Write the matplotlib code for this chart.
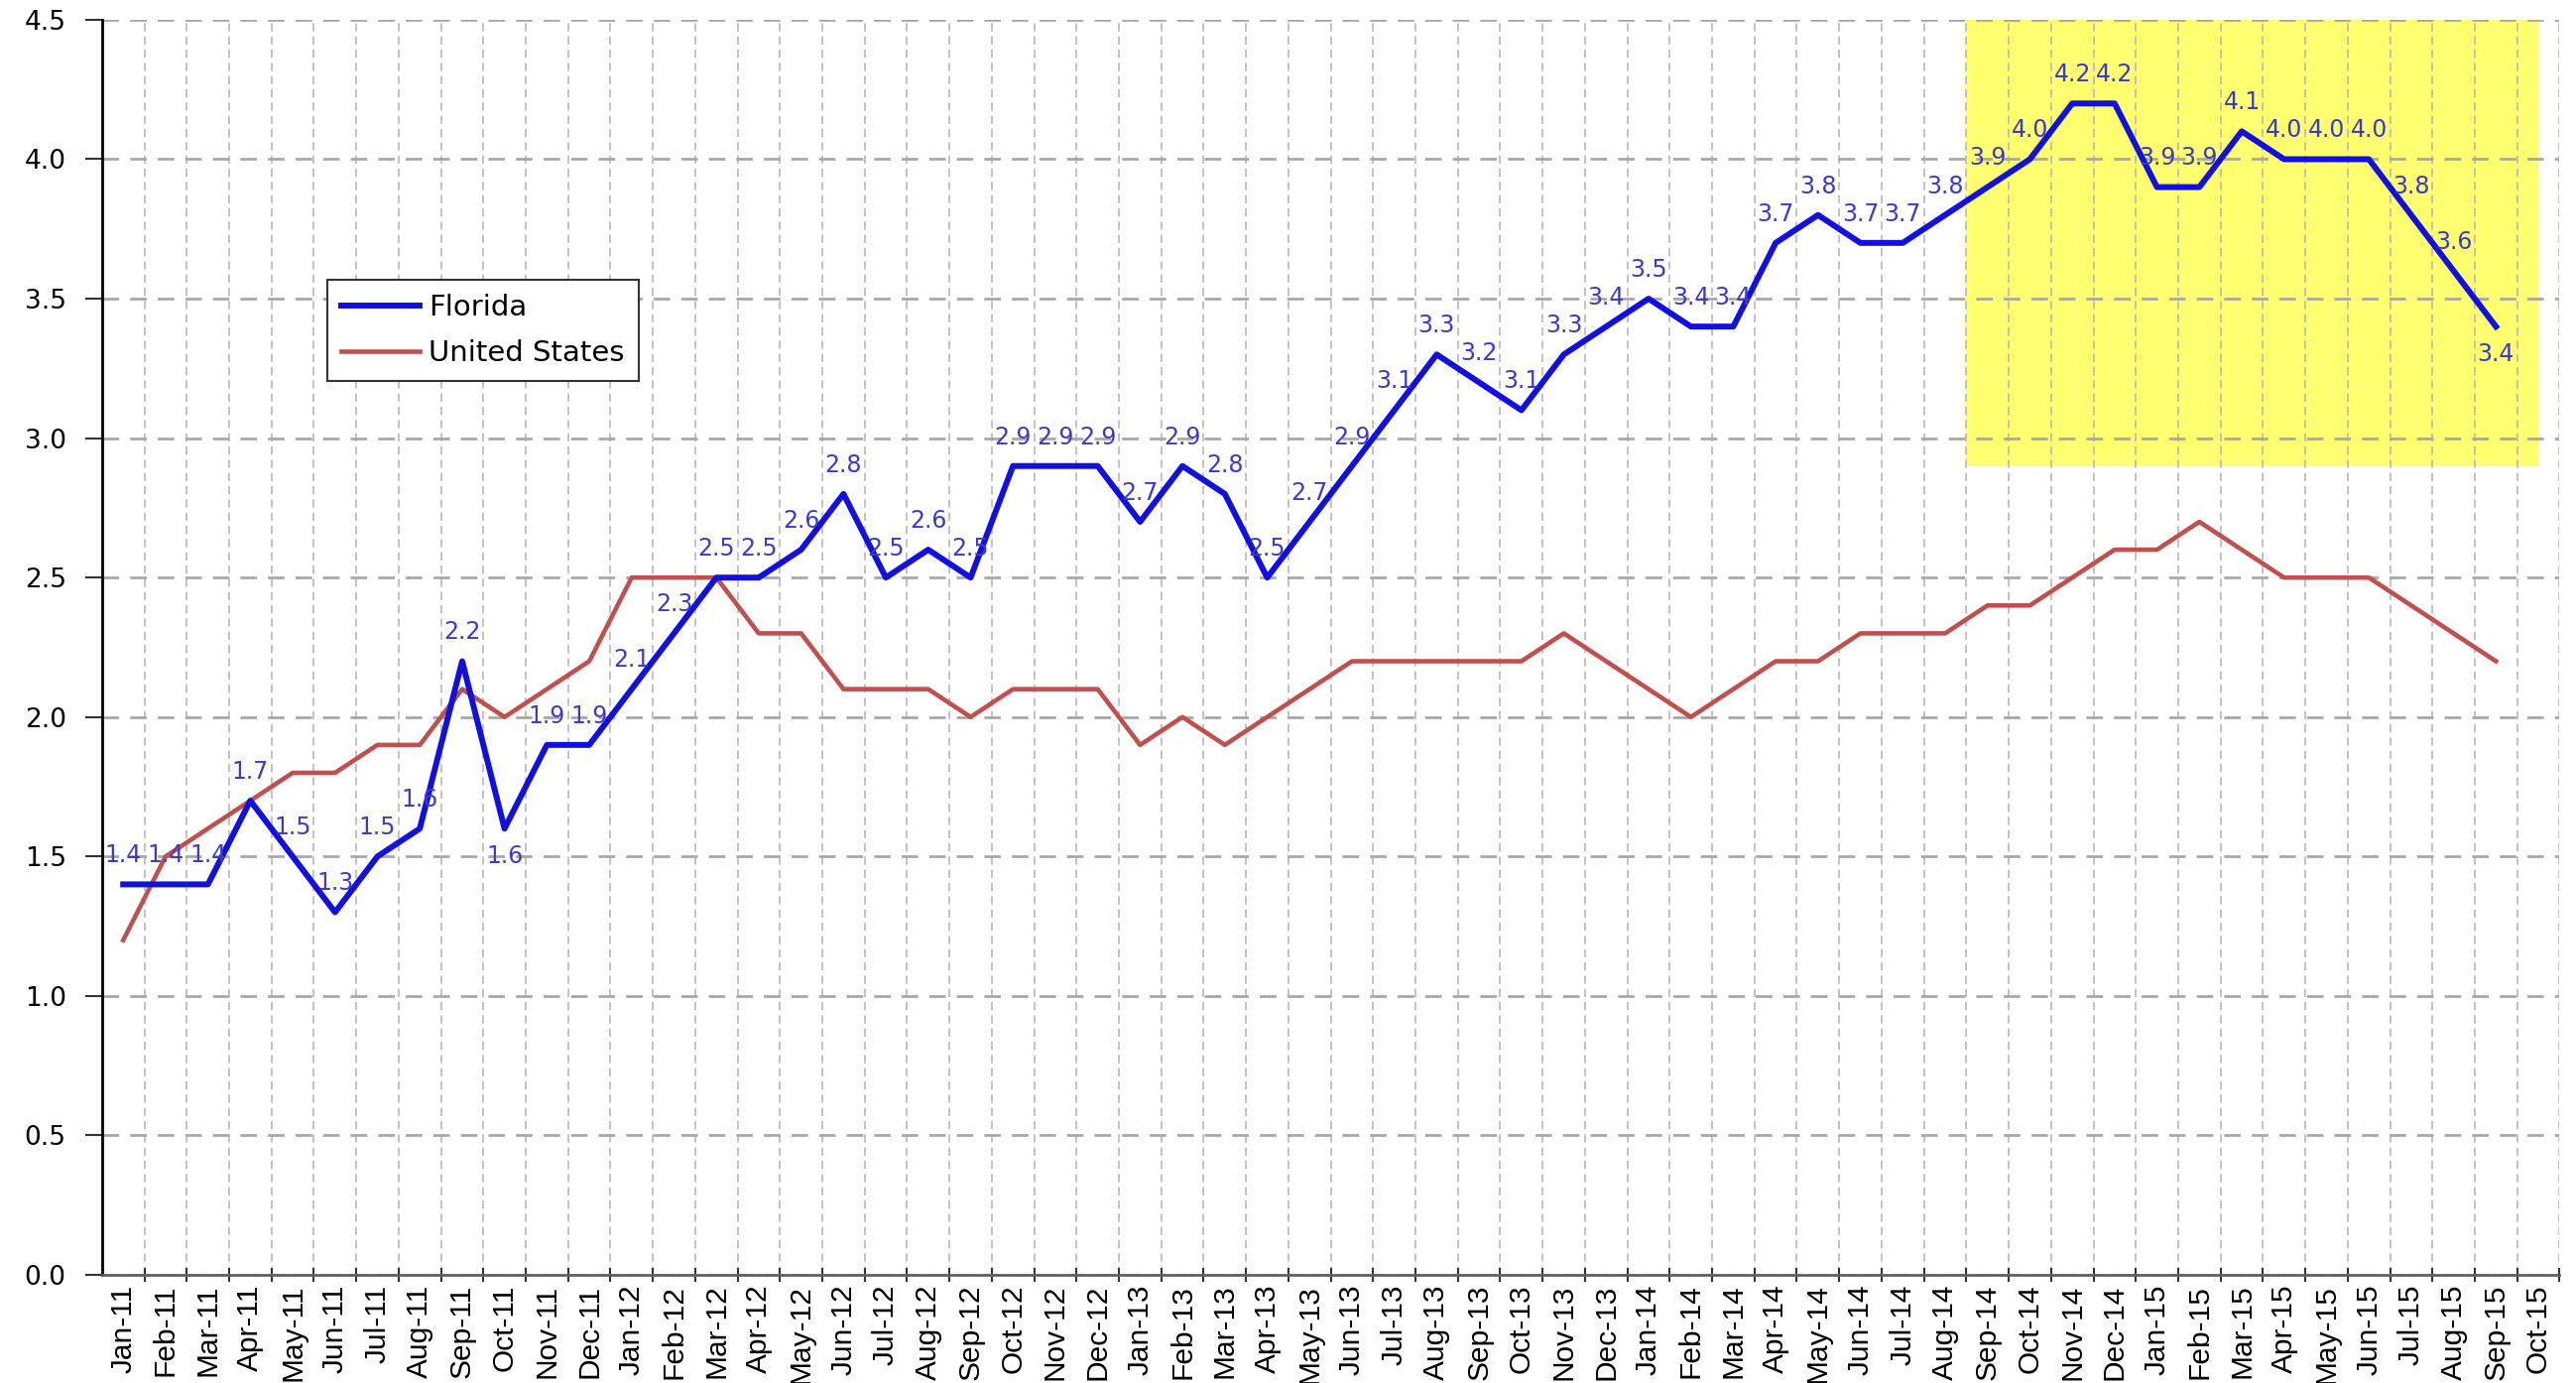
import matplotlib
matplotlib.use("Agg")
from matplotlib import pyplot as plt
from matplotlib.patches import Rectangle
import numpy as np

months = ["Jan-11", "Feb-11", "Mar-11", "Apr-11", "May-11", "Jun-11", "Jul-11", "Aug-11", "Sep-11", "Oct-11", "Nov-11", "Dec-11",
          "Jan-12", "Feb-12", "Mar-12", "Apr-12", "May-12", "Jun-12", "Jul-12", "Aug-12", "Sep-12", "Oct-12", "Nov-12", "Dec-12",
          "Jan-13", "Feb-13", "Mar-13", "Apr-13", "May-13", "Jun-13", "Jul-13", "Aug-13", "Sep-13", "Oct-13", "Nov-13", "Dec-13",
          "Jan-14", "Feb-14", "Mar-14", "Apr-14", "May-14", "Jun-14", "Jul-14", "Aug-14", "Sep-14", "Oct-14", "Nov-14", "Dec-14",
          "Jan-15", "Feb-15", "Mar-15", "Apr-15", "May-15", "Jun-15", "Jul-15", "Aug-15", "Sep-15", "Oct-15"]

florida = [1.4, 1.4, 1.4, 1.7, 1.5, 1.3, 1.5, 1.6, 2.2, 1.6, 1.9, 1.9,
           2.1, 2.3, 2.5, 2.5, 2.6, 2.8, 2.5, 2.6, 2.5, 2.9, 2.9, 2.9,
           2.7, 2.9, 2.8, 2.5, 2.7, 2.9, 3.1, 3.3, 3.2, 3.1, 3.3, 3.4,
           3.5, 3.4, 3.4, 3.7, 3.8, 3.7, 3.7, 3.8, 3.9, 4.0, 4.2, 4.2,
           3.9, 3.9, 4.1, 4.0, 4.0, 4.0, 3.8, 3.6, 3.4]

united_states = [1.2, 1.5, 1.6, 1.7, 1.8, 1.8, 1.9, 1.9, 2.1, 2.0, 2.1, 2.2,
                 2.5, 2.5, 2.5, 2.3, 2.3, 2.1, 2.1, 2.1, 2.0, 2.1, 2.1, 2.1,
                 1.9, 2.0, 1.9, 2.0, 2.1, 2.2, 2.2, 2.2, 2.2, 2.2, 2.3, 2.2,
                 2.1, 2.0, 2.1, 2.2, 2.2, 2.3, 2.3, 2.3, 2.4, 2.4, 2.5, 2.6,
                 2.6, 2.7, 2.6, 2.5, 2.5, 2.5, 2.4, 2.3, 2.2]

# labels that sit under the point instead of above it
below_labels = ["Oct-11", "Sep-15"]

# highlighted block: Sep-14 .. Oct-15, 2.9 to 4.5
highlight_start = "Sep-14"
highlight_end = "Oct-15"
highlight_low, highlight_high = 2.9, 4.5

fig = plt.figure(figsize=(25.97, 13.94), dpi=100)
ax = fig.add_axes([0.0396, 0.0782, 0.9540, 0.9075])

x = np.arange(len(months))
x0 = months.index(highlight_start) - 0.5
x1 = months.index(highlight_end)
ax.add_patch(Rectangle((x0, highlight_low), x1 - x0, highlight_high - highlight_low,
                       facecolor="#FFFF70", edgecolor="none", zorder=0))

ax.plot(x[:len(florida)], florida, color="#1010E0", lw=4.3, label="Florida", zorder=4)
ax.plot(x[:len(united_states)], united_states, color="#C0504D", lw=3.3, label="United States", zorder=3)

for i, v in enumerate(florida):
    dy = -20 if months[i] in below_labels else 21
    ax.annotate(f"{v:.1f}", (i, v), xytext=(0, dy), textcoords="offset points",
                ha="center", va="center", fontsize=17, color="#3B3BC8", zorder=5)

ax.set_xlim(-0.5, len(months) - 0.5)
ax.set_ylim(0, 4.5)
ax.set_yticks(np.arange(0, 4.51, 0.5))
ax.set_yticklabels([f"{t:.1f}" for t in np.arange(0, 4.51, 0.5)], fontsize=19)

ax.set_xticks(x)
ax.set_xticklabels(months, rotation=90, fontsize=21.5,
                   family=["Liberation Sans Narrow", "DejaVu Sans Condensed", "Liberation Sans"])
ax.tick_params(axis="x", which="major", length=0, pad=7)
ax.set_xticks(np.arange(0.5, len(months), 1.0), minor=True)
ax.tick_params(axis="x", which="minor", length=10, width=1.5, direction="inout", color="#333333")
ax.tick_params(axis="y", length=12, width=1.5, color="#333333", pad=14)

ax.grid(axis="y", which="major", linestyle=(0, (6, 4)), color="#A8A8A8", lw=2.0, zorder=1)
ax.grid(axis="x", which="minor", linestyle=(0, (5, 3)), color="#B8B8B8", lw=1.2, zorder=1)
ax.grid(axis="x", which="major", visible=False)
ax.set_axisbelow(True)

ax.spines["top"].set_visible(False)
ax.spines["right"].set_visible(False)
ax.spines["left"].set_color("black")
ax.spines["left"].set_linewidth(2.0)
ax.spines["bottom"].set_color("#606060")
ax.spines["bottom"].set_linewidth(2.0)

leg = ax.legend(loc="upper left", bbox_to_anchor=(0.0916, 0.793), borderaxespad=0, fontsize=21,
                handlelength=2.7, labelspacing=0.6, borderpad=0.5, handletextpad=0.3,
                fancybox=False, framealpha=1)
leg.get_frame().set_edgecolor("#333333")
leg.get_frame().set_linewidth(1.5)

fig.savefig("out.png", dpi=100)
